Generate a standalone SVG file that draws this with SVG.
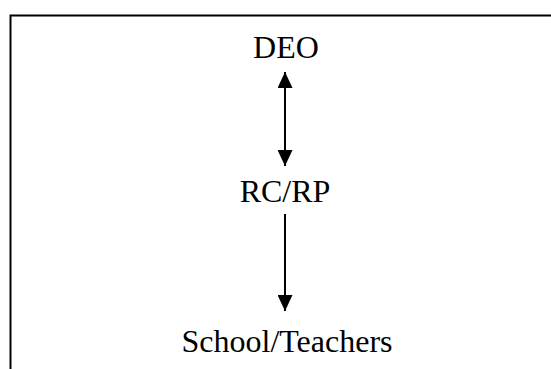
<svg xmlns="http://www.w3.org/2000/svg" width="551" height="369" viewBox="0 0 551 369">
<style>
.lbl{font-family:"Liberation Serif","Times New Roman",serif;font-size:32px;fill:#000;text-anchor:middle}
.conn{stroke:#000;stroke-width:2;fill:none}
</style>
<defs>
<marker id="ah" viewBox="0 0 16 15" refX="16" refY="7.5" markerWidth="16" markerHeight="15" markerUnits="userSpaceOnUse" orient="auto-start-reverse">
<path d="M0,0 L16,7.5 L0,15 z" fill="#000"/>
</marker>
</defs>
<rect width="551" height="369" fill="#fff"/>
<path d="M10.5,369 L10.5,15.5 L551,15.5" fill="none" stroke="#000" stroke-width="2"/>
<g id="deo"><text class="lbl" x="286" y="58">DEO</text></g>
<g id="rcrp"><text class="lbl" x="285" y="202">RC/RP</text></g>
<g id="school"><text class="lbl" x="287" y="352">School/Teachers</text></g>
<g id="connectors">
<line class="conn" x1="285" y1="72" x2="285" y2="166" marker-start="url(#ah)" marker-end="url(#ah)"/>
<line class="conn" x1="285" y1="214" x2="285" y2="311" marker-end="url(#ah)"/>
</g>
</svg>
